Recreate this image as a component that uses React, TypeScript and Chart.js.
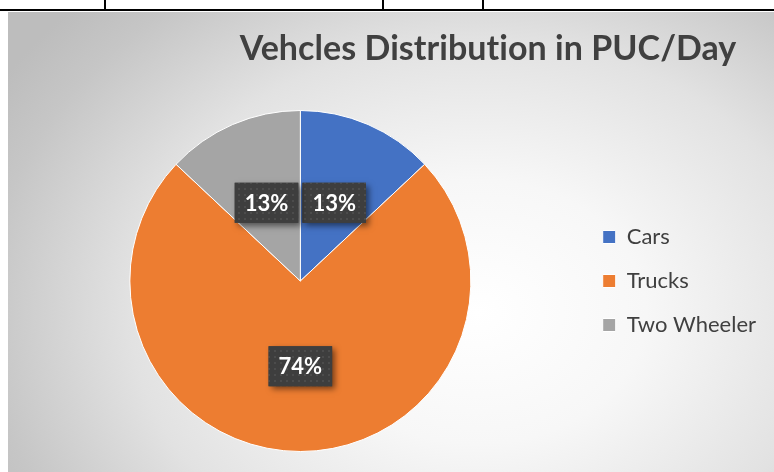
import React, { useEffect, useRef } from "react";
import { Chart, registerables } from "chart.js";

Chart.register(...registerables);

const categories = ["Cars", "Trucks", "Two Wheeler"];
const vehicleShares = [13, 74, 13];
const sliceColors = ["#4472C4", "#ED7D31", "#A5A5A5"];
const chartTitle = "Vehcles Distribution in PUC/Day";

const FONT = "Lato, 'Open Sans', sans-serif";

function makePattern(ctx: CanvasRenderingContext2D) {
  const c = document.createElement("canvas");
  c.width = 6;
  c.height = 6;
  const p = c.getContext("2d")!;
  p.fillStyle = "#3e3e3e";
  p.fillRect(0, 0, 6, 6);
  p.fillStyle = "#4c4c4c";
  p.fillRect(2, 2, 2, 2);
  return ctx.createPattern(c, "repeat");
}

const titlePlugin = {
  id: "customTitle",
  afterDraw(chart: any) {
    const ctx = chart.ctx as CanvasRenderingContext2D;
    ctx.save();
    ctx.font = `bold 34px ${FONT}`;
    (ctx as any).letterSpacing = "0.05px";
    ctx.fillStyle = "#404040";
    ctx.textAlign = "center";
    ctx.textBaseline = "alphabetic";
    ctx.fillText(chartTitle, 480, 48);
    ctx.restore();
  },
};

const labelPlugin = {
  id: "pctLabels",
  afterDatasetsDraw(chart: any) {
    const ctx = chart.ctx as CanvasRenderingContext2D;
    const meta = chart.getDatasetMeta(0);
    const data = chart.data.datasets[0].data as number[];
    const total = data.reduce((a, b) => a + b, 0);
    const pattern = makePattern(ctx);
    meta.data.forEach((arc: any, i: number) => {
      const pt = arc.getCenterPoint();
      const text = Math.round((data[i] / total) * 100) + "%";
      ctx.save();
      ctx.font = `bold 22px ${FONT}`;
      const tw = ctx.measureText(text).width;
      const w = tw + 20;
      const h = 40;
      const x = pt.x - w / 2;
      const y = pt.y - h / 2;
      ctx.shadowColor = "rgba(0,0,0,0.5)";
      ctx.shadowBlur = 6;
      ctx.shadowOffsetX = 3;
      ctx.shadowOffsetY = 3;
      ctx.fillStyle = "#3e3e3e";
      ctx.fillRect(x, y, w, h);
      ctx.shadowColor = "transparent";
      ctx.fillStyle = pattern || "#3e3e3e";
      ctx.fillRect(x, y, w, h);
      ctx.fillStyle = "#ffffff";
      ctx.textAlign = "center";
      ctx.textBaseline = "middle";
      ctx.fillText(text, pt.x, pt.y + 1);
      ctx.restore();
    });
  },
};

export default function App() {
  const canvasRef = useRef<HTMLCanvasElement>(null);

  useEffect(() => {
    if (!canvasRef.current) return;
    const chart = new Chart(canvasRef.current, {
      type: "pie",
      data: {
        labels: categories,
        datasets: [
          {
            data: vehicleShares,
            backgroundColor: sliceColors,
            borderColor: "#ffffff",
            borderWidth: 1,
          },
        ],
      },
      options: {
        animation: false,
        responsive: false,
        devicePixelRatio: 1,
        layout: { padding: { top: 98, bottom: 20, left: 12, right: 8 } },
        plugins: {
          title: { display: false },
          tooltip: { enabled: false },
          legend: {
            display: true,
            position: "right",
            align: "center",
            labels: {
              boxWidth: 13,
              boxHeight: 13,
              padding: 22,
              color: "#404040",
              font: { family: FONT, size: 22 },
            },
          },
        },
      },
      plugins: [titlePlugin, labelPlugin],
    });
    return () => chart.destroy();
  }, []);

  return (
    <div
      style={{
        position: "absolute",
        left: 0,
        top: 0,
        width: 774,
        height: 472,
        background: "#ffffff",
        overflow: "hidden",
      }}
    >
      <div style={{ position: "absolute", left: 0, top: 9, width: 774, height: 2, background: "#000" }} />
      <div style={{ position: "absolute", left: 104, top: 0, width: 2, height: 10, background: "#000" }} />
      <div style={{ position: "absolute", left: 382, top: 0, width: 2, height: 10, background: "#000" }} />
      <div style={{ position: "absolute", left: 482, top: 0, width: 2, height: 10, background: "#000" }} />
      <div
        style={{
          position: "absolute",
          left: 8,
          top: 12,
          width: 766,
          height: 460,
          background:
            "radial-gradient(ellipse 560px 440px at 470px 300px, #ffffff 0%, #f7f7f7 30%, #e2e2e2 62%, #c6c6c6 88%, #bdbdbd 100%)",
        }}
      >
        <canvas ref={canvasRef} width={766} height={460} style={{ display: "block" }} />
      </div>
    </div>
  );
}
